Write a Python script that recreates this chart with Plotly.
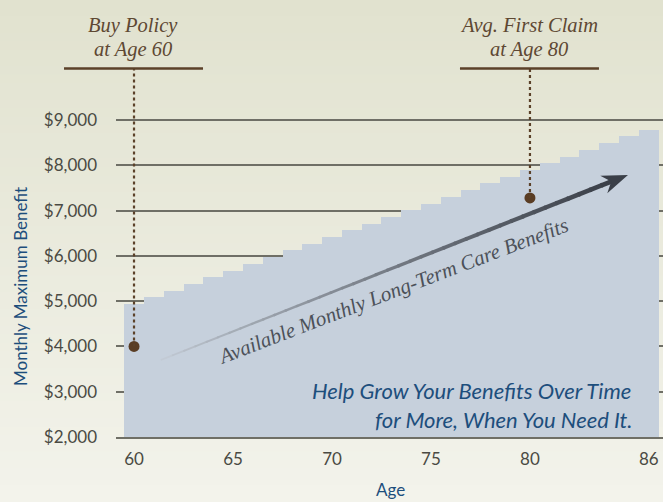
import plotly.graph_objects as go

# ---------------- data ----------------
ages = list(range(60, 87))
benefit = [4940, 5090, 5230, 5380, 5530, 5670, 5820, 5980, 6130, 6270,
           6420, 6570, 6710, 6860, 7020, 7140, 7300, 7460, 7610, 7750,
           7900, 8050, 8190, 8340, 8500, 8640, 8790]
milestone_ages = [60, 80]
milestone_values = [4000, 7280]
milestone_line1 = ["Buy Policy", "Avg. First Claim"]
milestone_line2 = ["at Age 60", "at Age 80"]
x_ticks = [60, 65, 70, 75, 80, 86]
y_ticks = [2000, 3000, 4000, 5000, 6000, 7000, 8000, 9000]
y_tick_labels = ["$2,000", "$3,000", "$4,000", "$5,000", "$6,000", "$7,000", "$8,000", "$9,000"]
arrow_from = (61.35, 3700)
arrow_to = (84.95, 7790)
arrow_text = "Available Monthly Long-Term Care Benefits"
slogan = ["Help Grow Your Benefits Over Time", "for More, When You Need It."]

# ---------------- geometry ----------------
W, H = 663, 502
ML, MR, MT, MB = 116, 0, 60, 65
PW, PH = W - ML - MR, H - MT - MB
X_RANGE = [59.09, 86.72]
Y_RANGE = [2000, 10328]


def px_x(px):
    return (px - ML) / PW


def px_y(py):
    return (H - MB - py) / PH


def age_px(a):
    return ML + (a - X_RANGE[0]) / (X_RANGE[1] - X_RANGE[0]) * PW


def val_py(v):
    return (H - MB) - (v - Y_RANGE[0]) / (Y_RANGE[1] - Y_RANGE[0]) * PH


BLUE = "#1d4e7c"
BROWN = "#5b4129"
GRID = "#6f6f66"
SANS = "Lato, 'Open Sans', sans-serif"
SERIF = "'Liberation Serif', 'DejaVu Serif', serif"

fig = go.Figure()

fig.add_trace(go.Bar(
    x=ages, y=benefit, width=1.0,
    marker=dict(color="#c6d0dc", line=dict(width=0)),
    hoverinfo="skip", showlegend=False,
))

fig.add_trace(go.Scatter(
    x=milestone_ages, y=milestone_values, mode="markers",
    marker=dict(size=11, color="#5a3d24"),
    showlegend=False, hoverinfo="skip",
))

shapes = []
annotations = []

# background gradient
top_c = (225, 226, 207)
bot_c = (243, 243, 235)
N = 60
for i in range(N):
    t = i / (N - 1)
    c = tuple(round(top_c[k] + (bot_c[k] - top_c[k]) * t) for k in range(3))
    ya = H * i / N
    yb = H * (i + 1) / N
    shapes.append(dict(
        type="rect", xref="paper", yref="paper",
        x0=px_x(-2), x1=px_x(W + 2), y0=px_y(ya - 0.5), y1=px_y(yb + 0.5),
        fillcolor="rgb(%d,%d,%d)" % c, line=dict(width=0), layer="below",
    ))

# milestones: dotted connector, brown rule, labels
for a, v, l1, l2 in zip(milestone_ages, milestone_values, milestone_line1, milestone_line2):
    cx = age_px(a)
    shapes.append(dict(
        type="line", xref="paper", yref="paper",
        x0=px_x(cx), x1=px_x(cx), y0=px_y(val_py(v)), y1=px_y(69),
        line=dict(color=BROWN, width=2.2, dash="dot"), layer="above",
    ))
    shapes.append(dict(
        type="line", xref="paper", yref="paper",
        x0=px_x(cx - 70), x1=px_x(cx + 69), y0=px_y(68.5), y1=px_y(68.5),
        line=dict(color=BROWN, width=2.6), layer="above",
    ))
    annotations.append(dict(
        x=px_x(cx - 1), y=px_y(26), xref="paper", yref="paper",
        text="<i>%s</i>" % l1, showarrow=False, xanchor="center", yanchor="middle",
        font=dict(family=SERIF, size=20.5, color="#5e4833"),
    ))
    annotations.append(dict(
        x=px_x(cx - 1), y=px_y(50), xref="paper", yref="paper",
        text="<i>%s</i>" % l2, showarrow=False, xanchor="center", yanchor="middle",
        font=dict(family=SERIF, size=20.5, color="#5e4833"),
    ))

# gradient arrow
sx, sy = age_px(arrow_from[0]), val_py(arrow_from[1])
tx, ty = age_px(arrow_to[0]), val_py(arrow_to[1])
dx, dy = tx - sx, ty - sy
L = (dx * dx + dy * dy) ** 0.5
ux, uy = dx / L, dy / L
nx, ny = -uy, ux
shaft_len = L - 17
c0 = (198, 206, 216)
c1 = (58, 63, 72)
NS = 40
for i in range(NS):
    t0, t1 = i / NS, (i + 1) / NS
    w0 = 1.6 + 3.2 * t0
    w1 = 1.6 + 3.2 * t1
    tm = (t0 + t1) / 2
    g = tm ** 0.8
    col = tuple(round(c0[k] + (c1[k] - c0[k]) * g) for k in range(3))
    ax0, ay0 = sx + ux * shaft_len * t0, sy + uy * shaft_len * t0
    ax1, ay1 = sx + ux * shaft_len * (t1 + 0.004), sy + uy * shaft_len * (t1 + 0.004)
    pts = [
        (ax0 + nx * w0 / 2, ay0 + ny * w0 / 2),
        (ax1 + nx * w1 / 2, ay1 + ny * w1 / 2),
        (ax1 - nx * w1 / 2, ay1 - ny * w1 / 2),
        (ax0 - nx * w0 / 2, ay0 - ny * w0 / 2),
    ]
    path = "M " + " L ".join("%.5f,%.5f" % (px_x(p[0]), px_y(p[1])) for p in pts) + " Z"
    shapes.append(dict(type="path", xref="paper", yref="paper", path=path,
                       fillcolor="rgb(%d,%d,%d)" % col, line=dict(width=0), layer="above"))

# arrow head
bx, by = tx - ux * 26, ty - uy * 26
hx, hy = tx - ux * 18, ty - uy * 18
head = [(tx, ty), (bx + nx * 9.5, by + ny * 9.5), (hx, hy), (bx - nx * 9.5, by - ny * 9.5)]
path = "M " + " L ".join("%.5f,%.5f" % (px_x(p[0]), px_y(p[1])) for p in head) + " Z"
shapes.append(dict(type="path", xref="paper", yref="paper", path=path,
                   fillcolor="rgb(%d,%d,%d)" % c1, line=dict(width=0), layer="above"))

# arrow caption
annotations.append(dict(
    x=px_x(393), y=px_y(291), xref="paper", yref="paper",
    text="<i>%s</i>" % arrow_text, showarrow=False, textangle=-21,
    xanchor="center", yanchor="middle",
    font=dict(family=SERIF, size=21, color="#4c5159"),
))

# slogan
annotations.append(dict(
    x=px_x(633), y=px_y(390), xref="paper", yref="paper",
    text="<i>%s</i>" % slogan[0], showarrow=False, xanchor="right", yanchor="middle",
    font=dict(family=SANS, size=22, color=BLUE),
))
annotations.append(dict(
    x=px_x(634), y=px_y(419), xref="paper", yref="paper",
    text="<i>%s</i>" % slogan[1], showarrow=False, xanchor="right", yanchor="middle",
    font=dict(family=SANS, size=22, color=BLUE),
))

# axis titles
annotations.append(dict(
    x=px_x(20), y=px_y(287), xref="paper", yref="paper",
    text="Monthly Maximum Benefit", showarrow=False, textangle=-90,
    xanchor="center", yanchor="middle",
    font=dict(family=SANS, size=17, color=BLUE),
))
annotations.append(dict(
    x=px_x(390), y=px_y(489), xref="paper", yref="paper",
    text="Age", showarrow=False, xanchor="center", yanchor="middle",
    font=dict(family=SANS, size=17, color=BLUE),
))

fig.update_layout(
    width=W, height=H,
    margin=dict(l=ML, r=MR, t=MT, b=MB, pad=0),
    paper_bgcolor="rgba(0,0,0,0)", plot_bgcolor="rgba(0,0,0,0)",
    bargap=0, showlegend=False,
    shapes=shapes, annotations=annotations,
    xaxis=dict(
        range=X_RANGE, tickvals=x_ticks, ticktext=[str(t) for t in x_ticks],
        showgrid=False, zeroline=False, showline=True, linecolor=GRID, linewidth=1.5,
        ticks="", ticklabelstandoff=6,
        tickfont=dict(family=SANS, size=17, color="#4a4a43"), fixedrange=True,
    ),
    yaxis=dict(
        range=Y_RANGE, tickvals=y_ticks, ticktext=y_tick_labels,
        showgrid=True, gridcolor=GRID, gridwidth=1.5, zeroline=False,
        showline=False, ticks="", ticklabelstandoff=18,
        tickfont=dict(family=SANS, size=17, color="#4a4a43"), fixedrange=True,
    ),
)

fig.write_html("out.html", config={"displayModeBar": False},
               post_script="document.body.style.margin='0';document.body.style.background='rgb(243,243,235)';")
